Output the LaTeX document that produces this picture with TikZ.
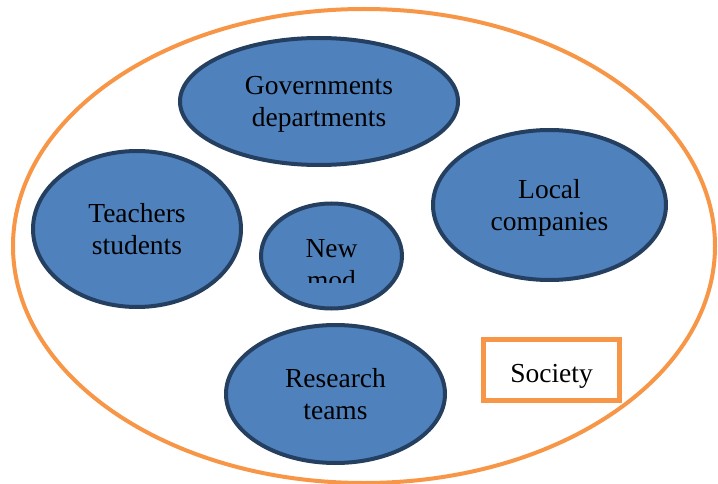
\documentclass[tikz,border=0pt]{standalone}
\usepackage{fontspec}
\setmainfont{Liberation Serif}
\newfontfamily\tnr{Liberation Serif}
\usetikzlibrary{shapes.geometric}
\definecolor{blobfill}{HTML}{4F81BD}
\definecolor{blobline}{HTML}{243F60}
\definecolor{orng}{HTML}{F79646}
\begin{document}
\begin{tikzpicture}[x=1pt,y=-1pt,
  blob/.style={ellipse, draw=blobline, line width=4pt, fill=blobfill, inner sep=0pt},
  lbl/.style={font=\tnr\fontsize{27.5}{32}\selectfont, align=center, inner sep=0pt, anchor=base},
  outer/.style={ellipse, draw=orng, line width=4pt, inner sep=0pt},
  tagbox/.style={rectangle, draw=orng, line width=5pt, inner sep=0pt, fill=white}
  ]
\useasboundingbox (0,0) rectangle (718,484);
\clip (0,0) rectangle (718,484);
\node[outer, minimum width=702, minimum height=474] (soc) at (364,246) {};
\node[blob, minimum width=278, minimum height=127] (gov) at (319,101.5) {};
\node[blob, minimum width=208, minimum height=156] (tea) at (137,229) {};
\node[blob, minimum width=141, minimum height=105] (new) at (331.5,256) {};
\node[blob, minimum width=233, minimum height=150] (loc) at (549.5,205) {};
\node[blob, minimum width=219, minimum height=138] (res) at (335.5,394) {};
\node[tagbox, minimum width=136, minimum height=61] (sbox) at (551.5,370) {};
\node[lbl] (govt) at (319,127) {Governments\\departments};
\node[lbl] (teat) at (137,254) {Teachers\\students};
\node[lbl] (loct) at (549.5,230) {Local\\companies};
\node[lbl] (rest) at (335.5,419) {Research\\teams};
\node[lbl] (sboxt) at (551.5,382) {Society};
\begin{scope}
  \clip (250,195) rectangle (410,282);
  \node[lbl] (newt) at (331.5,289) {New\\mod};
\end{scope}
\end{tikzpicture}
\end{document}
